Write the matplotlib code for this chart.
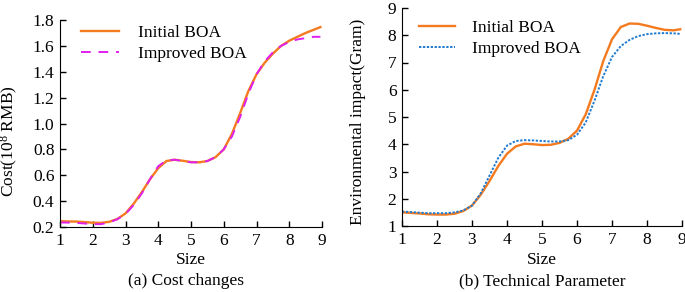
import matplotlib
matplotlib.use('Agg')
import matplotlib.pyplot as plt
import numpy as np

plt.rcParams['font.family'] = 'Liberation Serif'
plt.rcParams['mathtext.fontset'] = 'custom'
plt.rcParams['mathtext.rm'] = 'Liberation Serif'
plt.rcParams['mathtext.it'] = 'Liberation Serif:italic'
plt.rcParams['font.size'] = 12.5

# sizes
size = [1.0, 1.25, 1.5, 1.75, 2.0, 2.25, 2.5, 2.75, 3.0, 3.25, 3.5, 3.75, 4.0,
        4.25, 4.5, 4.75, 5.0, 5.25, 5.5, 5.75, 6.0, 6.25, 6.5, 6.75, 7.0,
        7.25, 7.5, 7.75, 8.0, 8.25, 8.5, 8.75, 8.95]

# (a) cost, 10^8 RMB
cost_initial = [0.245, 0.243, 0.242, 0.238, 0.233, 0.232, 0.240, 0.262, 0.305,
                0.38, 0.47, 0.57, 0.655, 0.71, 0.72, 0.712, 0.702, 0.700, 0.71,
                0.74, 0.80, 0.92, 1.08, 1.25, 1.38, 1.47, 1.54, 1.60, 1.64,
                1.67, 1.70, 1.725, 1.745]
cost_improved = [0.235, 0.234, 0.232, 0.227, 0.222, 0.222, 0.235, 0.26, 0.30,
                 0.37, 0.46, 0.57, 0.67, 0.715, 0.72, 0.71, 0.70, 0.70, 0.71,
                 0.74, 0.80, 0.90, 1.05, 1.23, 1.38, 1.48, 1.55, 1.60, 1.63,
                 1.65, 1.66, 1.67, 1.67]

# (b) environmental impact, gram
env_initial = [1.50, 1.48, 1.46, 1.43, 1.42, 1.42, 1.45, 1.55, 1.75, 2.15, 2.65,
               3.2, 3.65, 3.92, 4.02, 4.0, 3.97, 3.98, 4.05, 4.2, 4.5, 5.1, 6.0,
               7.05, 7.85, 8.3, 8.43, 8.42, 8.35, 8.27, 8.2, 8.18, 8.22]
env_improved = [1.53, 1.51, 1.49, 1.47, 1.47, 1.47, 1.5, 1.57, 1.75, 2.2, 2.85,
                3.5, 3.95, 4.12, 4.15, 4.14, 4.12, 4.1, 4.1, 4.15, 4.35, 4.8,
                5.6, 6.5, 7.2, 7.6, 7.83, 7.97, 8.04, 8.07, 8.08, 8.07, 8.05]

orange = '#f47a1f'
magenta = '#e020ee'
blue = '#1f7ad0'

W, H = 685, 292
fig = plt.figure(figsize=(6.85, 2.92), dpi=100)
ax1 = fig.add_axes([60 / W, 1 - 227 / H, 262 / W, 207 / H])
ax2 = fig.add_axes([402 / W, 1 - 226 / H, 280 / W, 218 / H])

ax1.plot(size, cost_initial, color=orange, lw=1.7, label='Initial BOA')
ax1.plot(size, cost_improved, color=magenta, lw=1.4, ls=(0, (5, 4)), label='Improved BOA')
ax1.set_xlim(1, 9)
ax1.set_ylim(0.2, 1.8)
ax1.set_yticks(np.arange(0.2, 1.81, 0.2))
ax1.set_yticklabels(['%.1f' % v for v in np.arange(0.2, 1.81, 0.2)])
ax1.set_ylabel('Cost(10$^{8}$ RMB)')
ax1.yaxis.set_label_coords(-40 / 262, 0.415)

ax2.plot(size, env_initial, color=orange, lw=1.7, label='Initial BOA')
ax2.plot(size, env_improved, color=blue, lw=1.4, ls=(0, (1.2, 0.8)), label='Improved BOA')
ax2.set_xlim(1, 9)
ax2.set_ylim(1, 9)
ax2.set_yticks(range(1, 10))
ax2.set_ylabel('Environmental impact(Gram)')
ax2.yaxis.set_label_coords(-36 / 280, 0.477)

for ax in (ax1, ax2):
    ax.set_xticks(range(1, 10))
    ax.spines['top'].set_visible(False)
    ax.spines['right'].set_visible(False)
    ax.tick_params(direction='in', length=4, width=1, pad=4)

# axis titles and panel captions
fig.text(191 / W, 1 - 260 / H, 'Size', ha='center', va='center')
fig.text(186 / W, 1 - 281 / H, '(a) Cost changes', ha='center', va='center')
fig.text(542 / W, 1 - 260 / H, 'Size', ha='center', va='center')
fig.text(542 / W, 1 - 281 / H, '(b) Technical Parameter', ha='center', va='center')

ax1.legend(loc='upper left', bbox_to_anchor=(65 / W, 1 - 9 / H), bbox_transform=fig.transFigure,
           frameon=False, handlelength=2.2, handletextpad=1.1, labelspacing=0.32)
ax2.legend(loc='upper left', bbox_to_anchor=(403 / W, 1 - 4 / H), bbox_transform=fig.transFigure,
           frameon=False, handlelength=2.1, handletextpad=1.0, labelspacing=0.32)

fig.savefig('out.png', dpi=100)
